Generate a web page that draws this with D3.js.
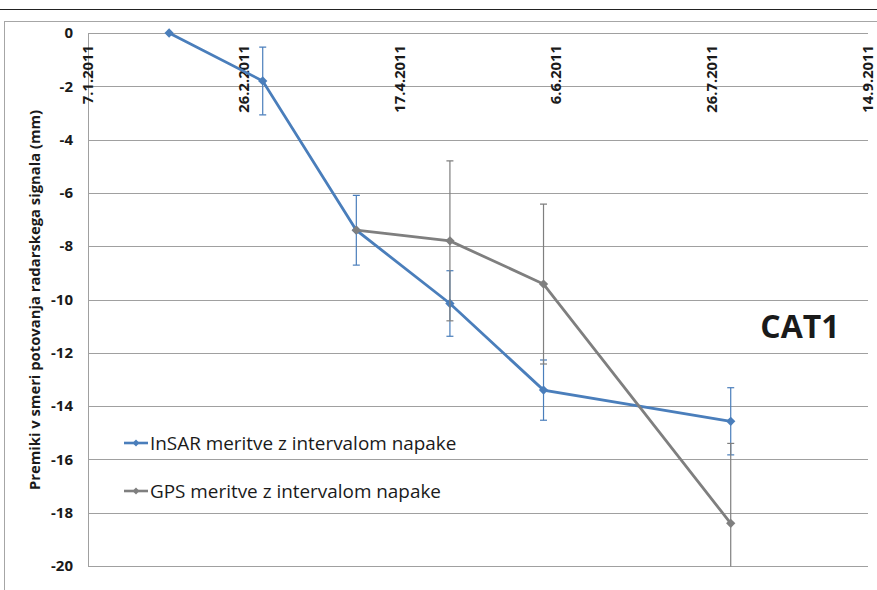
<!DOCTYPE html>
<html><head><meta charset="utf-8">
<script src="https://cdn.jsdelivr.net/npm/d3@7"></script>
<style>body{margin:0;background:#fff}svg{display:block}</style>
</head><body><svg id="c" width="877" height="590"></svg>
<script>
const tickDates = ["2011-01-07","2011-02-26","2011-04-17","2011-06-06","2011-07-26","2011-09-14"];
const tickLabels = ["7.1.2011","26.2.2011","17.4.2011","6.6.2011","26.7.2011","14.9.2011"];
const insarDates = ["2011-02-02","2011-03-04","2011-04-03","2011-05-03","2011-06-02","2011-08-01"];
const insarValues = [0, -1.8, -7.4, -10.15, -13.4, -14.57];
const insarErrors = [0, 1.27, 1.31, 1.23, 1.13, 1.26];
const gpsDates = ["2011-04-03","2011-05-03","2011-06-02","2011-08-01"];
const gpsValues = [-7.4, -7.8, -9.42, -18.4];
const gpsErrors = [0, 3, 3, 3];
const yTicks = [0,-2,-4,-6,-8,-10,-12,-14,-16,-18,-20];
const seriesNames = ["InSAR meritve z intervalom napake","GPS meritve z intervalom napake"];
const yTitle = "Premiki v smeri potovanja radarskega signala (mm)";
const label = "CAT1";

const parse = d3.utcParse("%Y-%m-%d");
const svg = d3.select("#c");
const FONT = "'Open Sans', 'Liberation Sans', sans-serif";
const blue = "#4a7ebb", gray = "#7f7f7f";

// frame
svg.append("line").attr("x1",0).attr("x2",877).attr("y1",9.5).attr("y2",9.5).attr("stroke","#222").attr("stroke-width",1);
svg.append("rect").attr("x",4.5).attr("y",21.5).attr("width",890).attr("height",600).attr("fill","none").attr("stroke","#a6a6a6").attr("stroke-width",1);

const x = d3.scaleUtc().domain([parse(tickDates[0]), parse(tickDates[5])]).range([88, 868]);
const y = d3.scaleLinear().domain([0,-20]).range([33, 566]);

// gridlines
svg.append("g").selectAll("line").data(yTicks).join("line")
  .attr("x1",88).attr("x2",868).attr("y1",d=>Math.round(y(d))+0.5).attr("y2",d=>Math.round(y(d))+0.5)
  .attr("stroke","#a0a0a0").attr("stroke-width",1);
svg.append("line").attr("x1",88.5).attr("x2",88.5).attr("y1",33).attr("y2",566).attr("stroke","#a0a0a0");

// y tick labels
svg.append("g").selectAll("text").data(yTicks).join("text")
  .attr("x",73).attr("y",d=>y(d)).attr("dy","0.35em").attr("text-anchor","end")
  .attr("font-family",FONT).attr("font-weight","bold").attr("font-size",15).attr("fill","#1a1a1a")
  .text(d=>d===0?"0":String(d));

// x tick labels (rotated)
svg.append("g").selectAll("text").data(tickDates).join("text")
  .attr("transform",(d)=>`translate(${x(parse(d))},45) rotate(-90)`)
  .attr("text-anchor","end").attr("dy","0.35em")
  .attr("font-family",FONT).attr("font-weight","bold").attr("font-size",14.8).attr("fill","#1a1a1a")
  .text((d,i)=>tickLabels[i]);

// y title
svg.append("text").attr("transform","translate(35,300) rotate(-90)").attr("text-anchor","middle").attr("dy","0.35em")
  .attr("font-family",FONT).attr("font-weight","bold").attr("font-size",14.8).attr("fill","#1a1a1a").text(yTitle);

const clip = svg.append("defs").append("clipPath").attr("id","pc").append("rect").attr("x",80).attr("y",25).attr("width",800).attr("height",541.5);
const plot = svg.append("g").attr("clip-path","url(#pc)");

function series(dates, vals, errs, color){
  const pts = dates.map((d,i)=>({x:x(parse(d)), v:vals[i], e:errs[i]}));
  const g = plot.append("g");
  pts.filter(p=>p.e>0).forEach(p=>{
    const y1=y(p.v+p.e), y2=y(p.v-p.e);
    g.append("line").attr("x1",p.x).attr("x2",p.x).attr("y1",y1).attr("y2",y2).attr("stroke",color).attr("stroke-width",1.2);
    [y1,y2].forEach(yy=>g.append("line").attr("x1",p.x-3.5).attr("x2",p.x+3.5).attr("y1",yy).attr("y2",yy).attr("stroke",color).attr("stroke-width",1.2));
  });
  g.append("path").datum(pts).attr("fill","none").attr("stroke",color).attr("stroke-width",2.8)
    .attr("d",d3.line().x(p=>p.x).y(p=>y(p.v)));
  g.selectAll("path.m").data(pts).join("path").attr("class","m")
    .attr("transform",p=>`translate(${p.x},${y(p.v)})`)
    .attr("d",d3.symbol(d3.symbolDiamond2,55)).attr("fill",color);
}
series(insarDates, insarValues, insarErrors, blue);
series(gpsDates, gpsValues, gpsErrors, gray);

// legend
[[blue,443],[gray,491]].forEach(([c,yy],i)=>{
  svg.append("line").attr("x1",124).attr("x2",148).attr("y1",yy).attr("y2",yy).attr("stroke",c).attr("stroke-width",2.6);
  svg.append("path").attr("transform",`translate(136,${yy})`).attr("d",d3.symbol(d3.symbolDiamond2,30)).attr("fill",c);
  svg.append("text").attr("x",150).attr("y",yy).attr("dy","0.35em").attr("font-family",FONT).attr("font-size",18.9).attr("fill","#1a1a1a").text(seriesNames[i]);
});

svg.append("text").attr("x",800).attr("y",338).attr("text-anchor","middle").attr("font-family",FONT).attr("font-weight","bold").attr("font-size",32).attr("fill","#1a1a1a").text(label);
</script></body></html>
